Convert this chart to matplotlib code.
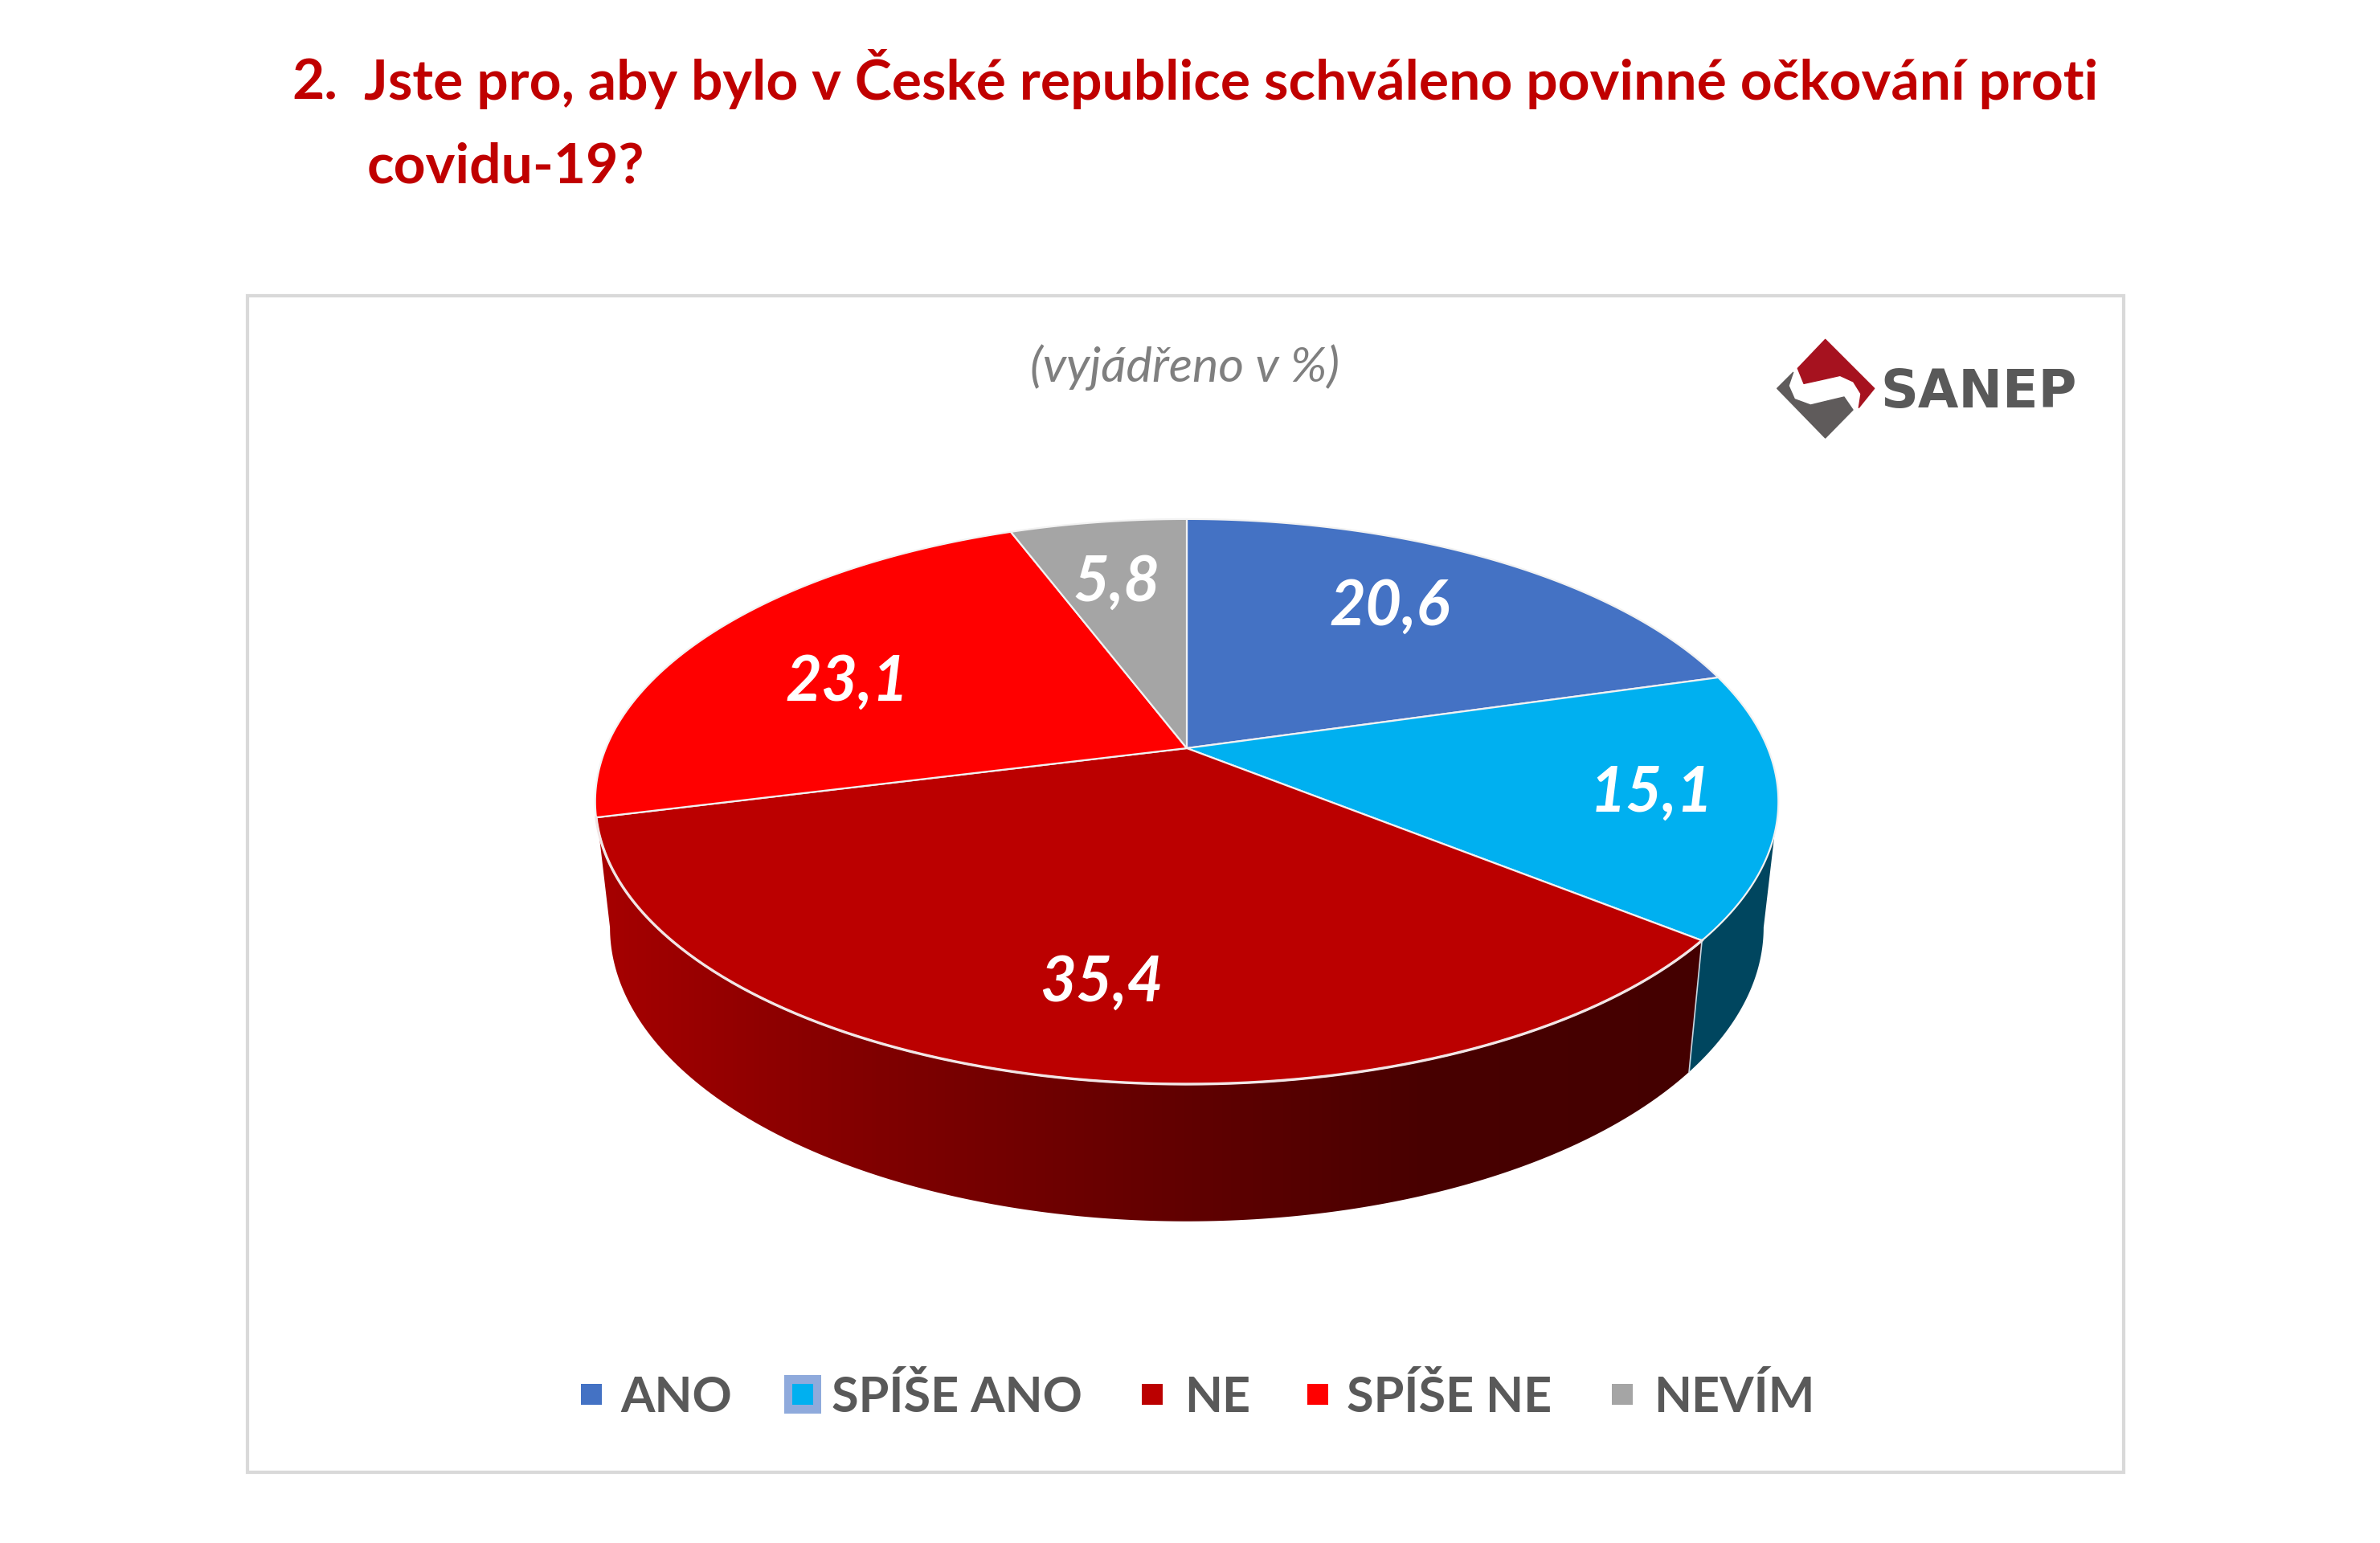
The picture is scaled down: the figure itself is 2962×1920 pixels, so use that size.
#!/usr/bin/env python3
"""
SANEP poll, question 2: tilted 3-D pie drawn by hand in pixel coordinates.
"""
import numpy as np
import matplotlib

matplotlib.use("Agg")
import matplotlib.pyplot as plt
from matplotlib.colors import LinearSegmentedColormap
from matplotlib.patches import Polygon, Rectangle

categories = ["ANO", "SPÍŠE ANO", "NE", "SPÍŠE NE", "NEVÍM"]
values = [20.6, 15.1, 35.4, 23.1, 5.8]
colors = ["#4472C4", "#00B0F0", "#BB0000", "#FF0000", "#A5A5A5"]
value_labels = ["20,6", "15,1", "35,4", "23,1", "5,8"]

title_num = "2."
title_lines = ["Jste pro, aby bylo v České republice schváleno povinné očkování proti", "covidu-19?"]
subtitle = "(vyjádřeno v %)"

# layout, in reference pixels
W, H = 2962, 1920
CX, CY = 1477, 931  # apex of the top face
A, B, K = 723, 339, 0.189  # perspective of the top face
SX, SY, DROP_Y = 0.975, 1.04, 1085  # bottom rim
LABEL_XY = [(1729, 756), (2055, 988), (1371, 1224), (1054, 850), (1390, 726)]
LEGEND_BOX = [723, 986, 1421, 1627, 2006]
LEGEND_TXT = [772, 1035, 1474, 1676, 2058]


def top_rim(deg):
    t = np.radians(deg)
    u, v = np.sin(t), np.cos(t)
    w = 1 + K * v
    return CX + A * u / w, CY - B * v / w


def low_rim(deg):
    x, y = top_rim(deg)
    return CX + SX * (x - CX), DROP_Y + SY * (y - CY)


def side_poly(a0, a1):
    th = np.linspace(a0, a1, 200)
    xt, yt = top_rim(th)
    xl, yl = low_rim(th[::-1])
    return np.column_stack([np.r_[xt, xl], np.r_[yt, yl]])


fg = plt.figure(figsize=(W / 100, H / 100), dpi=100, facecolor="white")
ax = fg.add_axes([0, 0, 1, 1])
ax.axis("off")

ax.add_patch(Rectangle((308, 368), 2335, 1464, fill=False, ec="#D9D9D9", lw=3))

font = "Lato"
for s, x, y in [(title_num, 363, 124), (title_lines[0], 453, 124), (title_lines[1], 457, 228)]:
    ax.text(x, y, s, color="#C00000", fontsize=50, fontweight="bold", family=font, ha="left", va="baseline")

ax.text(1475, 475, subtitle, color="#7F7F7F", fontsize=44, fontstyle="italic", family=font, ha="center", va="baseline")

# slice boundaries, clockwise from the top
edges = np.r_[0, np.cumsum(values)] * 3.6
# where the rim turns away from the viewer
tangent = np.degrees(np.arccos(-K))

# sides
blue_side = Polygon(side_poly(tangent, edges[2]), closed=True, fc="#00465F", ec="none", zorder=2)
ax.add_patch(blue_side)

ne_side = Polygon(side_poly(edges[2], 360 - tangent), closed=True, fc="none", ec="none", zorder=2)
ax.add_patch(ne_side)
cm = LinearSegmentedColormap.from_list("side", ["#A60000", "#800000", "#640000", "#480000", "#440000"])
im = ax.imshow(np.linspace(0, 1, 256)[None, :], cmap=cm, extent=(745, 2125, 1530, 1000), aspect="auto", zorder=2)
im.set_clip_path(ne_side)

x0, y0 = top_rim(edges[2])
x1, y1 = low_rim(edges[2])
ax.plot([x0, x1], [y0, y1], color="#C9D6E0", lw=1.2, zorder=3)

# top face
for c, a0, a1 in zip(colors, edges[:-1], edges[1:]):
    xr, yr = top_rim(np.linspace(a0, a1, 200))
    pts = np.column_stack([np.r_[CX, xr], np.r_[CY, yr]])
    ax.add_patch(Polygon(pts, closed=True, fc=c, ec="#F2F2F2", lw=1.6, joinstyle="round", zorder=4))

# the front rim of the big slice catches more light
xr, yr = top_rim(np.linspace(edges[2], edges[3], 300))
ax.plot(xr, yr, color="#F2E6E6", lw=2.4, zorder=4)

for s, (x, y) in zip(value_labels, LABEL_XY):
    ax.text(x, y, s, color="white", fontsize=56, fontweight="bold", fontstyle="italic", family=font,
            ha="center", va="center", zorder=5)

# legend
ax.add_patch(Rectangle((976, 1711), 46, 48, fc="#8FAADC", ec="none", zorder=1))
for c, s, xb, xt in zip(colors, categories, LEGEND_BOX, LEGEND_TXT):
    ax.add_patch(Rectangle((xb, 1722), 26, 26, fc=c, ec="none", zorder=2))
    ax.text(xt, 1757, s, color="#595959", fontsize=44, fontweight="bold", family=font, ha="left", va="baseline")


# logo
def logo(pts, c):
    xy = np.array(pts, dtype=float)
    xy = np.column_stack([2150 + xy[:, 0] / 3, 390 + xy[:, 1] / 3])
    ax.add_patch(Polygon(xy, closed=True, fc=c, ec=c, lw=1, joinstyle="round"))


logo([(365, 97), (548, 280), (490, 352), (498, 300), (470, 255), (420, 232), (340, 250), (285, 262), (262, 205)], "#A6121F")
logo([(185, 280), (245, 220), (228, 270), (250, 320), (310, 342), (380, 325), (435, 312), (468, 360), (365, 465)], "#5F5B5B")
ax.text(2340, 507, "SANEP", color="#595959", fontsize=47, fontweight="bold", family="DejaVu Sans", ha="left", va="baseline")

ax.set_xlim(0, W)
ax.set_ylim(H, 0)

fg.savefig("out.png", dpi=100, facecolor="white")
